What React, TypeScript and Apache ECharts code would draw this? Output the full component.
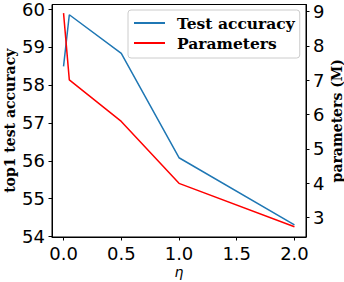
import React, { useEffect, useRef } from "react";
import * as echarts from "echarts";

const eta = [0, 0.05, 0.5, 1.0, 2.0];
const accuracy = [58.49, 59.85, 58.83, 56.08, 54.31];
const parameters = [8.95, 7.01, 5.8, 4.0, 2.74];
const xTicks = [0, 0.5, 1.0, 1.5, 2.0];
const accTicks = [54, 55, 56, 57, 58, 59, 60];
const paramTicks = [3, 4, 5, 6, 7, 8, 9];

export default function App() {
  const ref = useRef<HTMLDivElement>(null);
  useEffect(() => {
    const chart = echarts.init(ref.current!, null, { renderer: "svg" });
    const tickFont = { fontFamily: "DejaVu Sans", fontSize: 18, color: "#000" };
    const nameFont = { fontFamily: "DejaVu Serif", fontWeight: "bold" as const, fontSize: 14, color: "#000" };
    chart.setOption({
      animation: false,
      backgroundColor: "#fff",
      grid: {
        left: 52, right: 38, top: 4.5, bottom: 45,
        outerBoundsMode: "none",
        show: true, borderColor: "#000", borderWidth: 1, backgroundColor: "transparent",
      },
      legend: {
        orient: "vertical",
        left: 128,
        top: 10,
        padding: [5, 5, 7, 6],
        itemWidth: 31,
        itemHeight: 2,
        itemGap: 4,
        icon: "rect",
        borderColor: "#ccc",
        borderWidth: 1,
        borderRadius: 3,
        backgroundColor: "rgba(255,255,255,0.8)",
        textStyle: { ...nameFont, fontSize: 15.5, padding: [0, 0, 0, 7], lineHeight: 16 },
        data: ["Test accuracy", "Parameters"],
      },
      xAxis: {
        type: "value",
        min: -0.1,
        max: 2.1,
        name: "η",
        nameLocation: "middle",
        nameGap: 28,
        nameMoveOverlap: false,
        nameTextStyle: { fontFamily: "DejaVu Sans", fontStyle: "italic", fontSize: 14, color: "#000" },
        splitLine: { show: false },
        axisLine: { show: true, onZero: false, lineStyle: { color: "#000", width: 1 } },
        axisTick: { show: true, length: 3.5, customValues: xTicks, lineStyle: { color: "#000" } },
        axisLabel: { ...tickFont, margin: 7, customValues: xTicks, formatter: (v: number) => v.toFixed(1) },
      },
      yAxis: [
        {
          type: "value",
          min: 53.99,
          max: 60.12,
          name: "top1 test accuracy",
          nameLocation: "middle",
          nameRotate: 90,
          nameGap: 35.5,
          nameMoveOverlap: false,
          nameTextStyle: nameFont,
          splitLine: { show: false },
          axisLine: { show: true, onZero: false, lineStyle: { color: "#000", width: 1 } },
          axisTick: { show: true, length: 3.5, customValues: accTicks, lineStyle: { color: "#000" } },
          axisLabel: { ...tickFont, margin: 7, customValues: accTicks },
        },
        {
          type: "value",
          position: "right",
          min: 2.44,
          max: 9.2,
          name: "parameters (M)",
          nameLocation: "middle",
          nameRotate: 90,
          nameGap: 24,
          nameMoveOverlap: false,
          nameTextStyle: nameFont,
          splitLine: { show: false },
          axisLine: { show: true, onZero: false, lineStyle: { color: "#000", width: 1 } },
          axisTick: { show: true, length: 3.5, customValues: paramTicks, lineStyle: { color: "#000" } },
          axisLabel: { ...tickFont, margin: 7, customValues: paramTicks },
        },
      ],
      series: [
        {
          name: "Test accuracy",
          type: "line",
          yAxisIndex: 0,
          symbol: "none",
          color: "#1f77b4",
          lineStyle: { color: "#1f77b4", width: 1.5 },
          data: eta.map((e, i) => [e, accuracy[i]]),
        },
        {
          name: "Parameters",
          type: "line",
          yAxisIndex: 1,
          symbol: "none",
          color: "#ff0000",
          lineStyle: { color: "#ff0000", width: 1.5 },
          data: eta.map((e, i) => [e, parameters[i]]),
        },
      ],
    });
    return () => chart.dispose();
  }, []);
  return <div ref={ref} style={{ position: "fixed", left: 0, top: 0, width: 344, height: 282 }} />;
}
